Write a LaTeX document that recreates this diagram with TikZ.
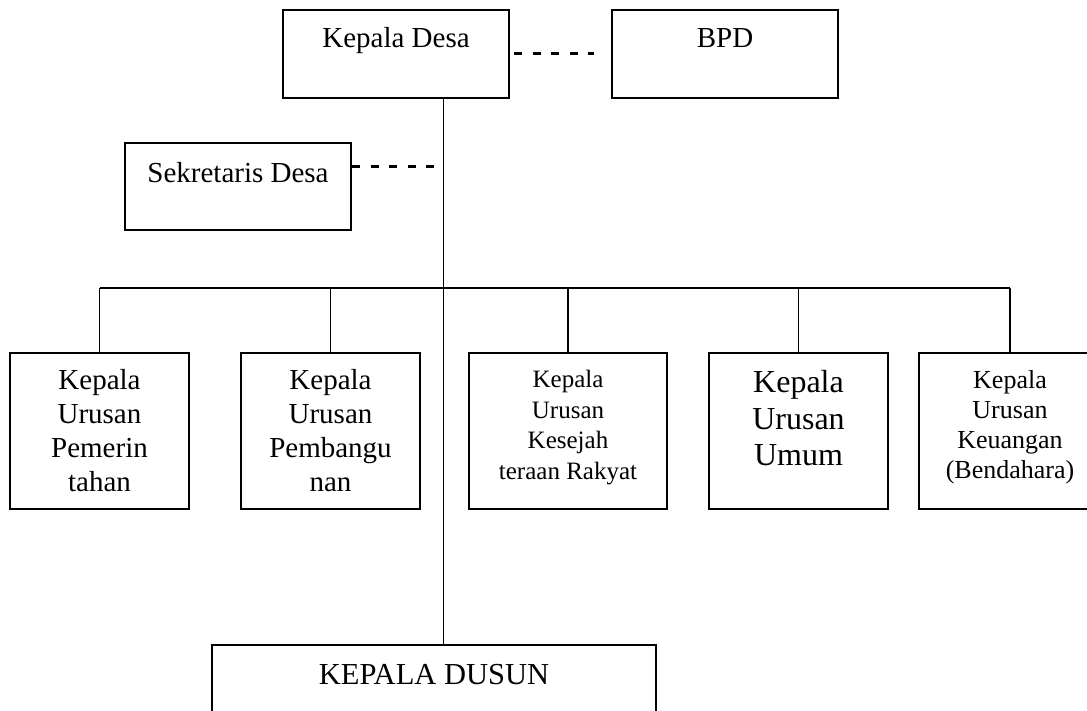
\documentclass[tikz,border=0pt]{standalone}
\usepackage{fontspec}
\setmainfont{Liberation Serif}
\usepackage{tikz}
\usetikzlibrary{positioning}

\begin{document}
\begin{tikzpicture}[x=1pt, y=1pt,
		kotak/.style = {draw, line width=2pt, inner sep=0pt, anchor=north west},
		isi/.style = {align=center, inner sep=0pt},
		garis/.style = {line width=1.6pt},
		putus/.style = {line width=3pt, dash pattern=on 8pt off 10.5pt}]
			\def\atas{352}
			\def\tinggi{156}
			\def\bus{288}
			
			\useasboundingbox (0,0) rectangle (1087,-711);
			
			\begin{scope}[font=\fontsize{29}{34}\selectfont, minimum width=226pt]
				\node [kotak, text height=38pt, text depth=50pt] (kades) at (282,-9) {Kepala Desa};
				\node [kotak, text height=38pt, text depth=50pt] (bpd) at (611,-9) {BPD};
				\node [kotak, text height=40pt, text depth=47pt] (sekdes) at (124,-142) {Sekretaris Desa};
			\end{scope}
			
			\node [kotak, minimum width=444pt, text height=39pt, text depth=60pt, font=\fontsize{30.5}{36}\selectfont] (kadus) at (211,-644) {KEPALA DUSUN};
			
			\begin{scope}[minimum height=\tinggi pt]
				\node [kotak, minimum width=179pt] (kaurA) at (9,-\atas) {};
				\node [kotak, minimum width=179pt] (kaurB) at (240,-\atas) {};
				\node [kotak, minimum width=198pt] (kaurC) at (468,-\atas) {};
				\node [kotak, minimum width=179pt] (kaurD) at (708,-\atas) {};
				\node [kotak, minimum width=182pt] (kaurE) at (918,-\atas) {};
			\end{scope}
			
			\node [isi, below=17pt of kaurA.north, font=\fontsize{29}{34}\selectfont] (teksA) {Kepala\\Urusan\\Pemerin\\tahan};
			\node [isi, below=17pt of kaurB.north, font=\fontsize{29}{34}\selectfont] (teksB) {Kepala\\Urusan\\Pembangu\\nan};
			\node [isi, below=18pt of kaurC.north, font=\fontsize{25}{30.5}\selectfont] (teksC) {Kepala\\Urusan\\Kesejah\\teraan Rakyat};
			\node [isi, below=18pt of kaurD.north, font=\fontsize{32}{36.7}\selectfont] (teksD) {Kepala\\Urusan\\Umum};
			\node [isi, below=18pt of kaurE.north, font=\fontsize{26}{30}\selectfont] (teksE) {Kepala\\Urusan\\Keuangan\\(Bendahara)};
			
			\coordinate (puncak) at ([xshift=47.5pt]kades.south);
			\draw [garis] (puncak) -- (puncak |- kadus.north);
			
			\coordinate (kiri) at (kaurA.north |- 0,-\bus);
			\coordinate (kanan) at (kaurE.north |- 0,-\bus);
			\draw [garis] (kiri) -- (kanan);
			\foreach \k in {A,B,C,D,E}
				\draw [garis] (kaur\k.north) -- (kaur\k.north |- kiri);
			
			\begin{scope}[putus]
				\draw ([xshift=4pt]kades.east) -- ([xshift=-17pt]bpd.west);
				\draw ([yshift=20pt]sekdes.east) -- ([yshift=20pt, xshift=-9pt]sekdes.east -| puncak);
			\end{scope}
		\end{tikzpicture}
\end{document}
